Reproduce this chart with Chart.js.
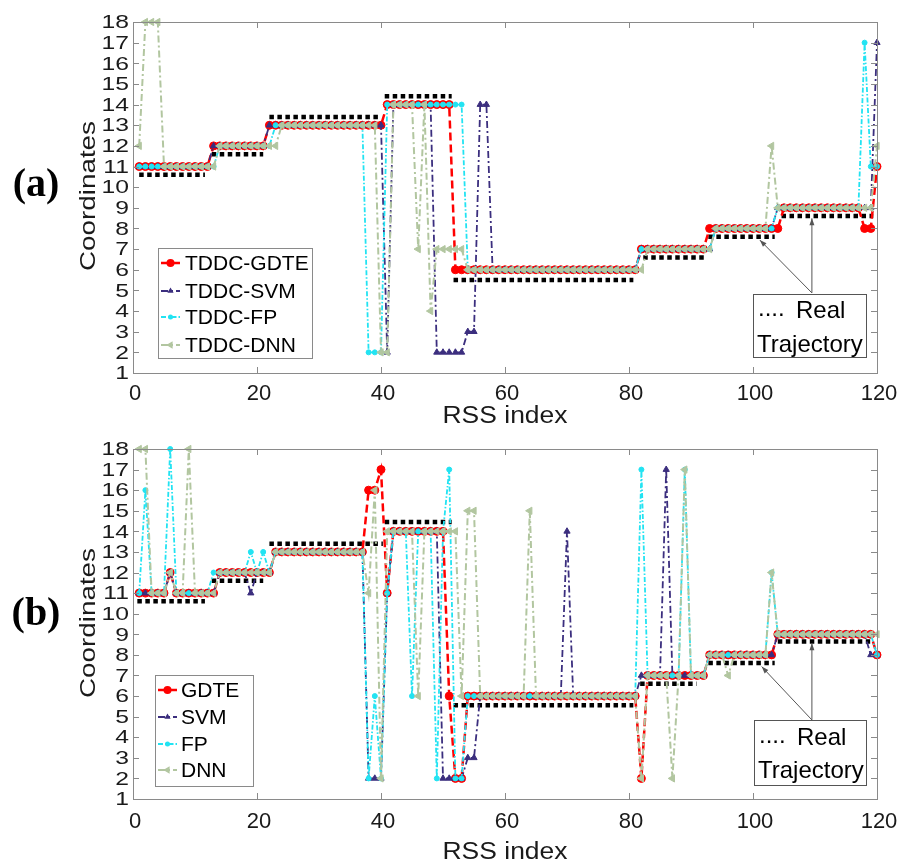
<!DOCTYPE html>
<html>
<head>
<meta charset="utf-8">
<script src="https://cdn.jsdelivr.net/npm/chart.js@4.4.1/dist/chart.umd.min.js"></script>
<style>
  body { margin: 0; background: #fff; width: 897px; height: 865px; position: relative; overflow: hidden; }
  canvas { position: absolute; left: 0; }
  #chartA { top: 0; }
  #chartB { top: 427px; }
</style>
</head>
<body>
<canvas id="chartA" width="897" height="427"></canvas>
<canvas id="chartB" width="897" height="438"></canvas>
<script>
// ── Data ──
const rssIndex = Array.from({ length: 120 }, (_, i) => i + 1);
const xTicks = [0, 20, 40, 60, 80, 100, 120];
const yTicks = [1, 2, 3, 4, 5, 6, 7, 8, 9, 10, 11, 12, 13, 14, 15, 16, 17, 18];
const namesA = ['TDDC-GDTE', 'TDDC-SVM', 'TDDC-FP', 'TDDC-DNN'];
const namesB = ['GDTE', 'SVM', 'FP', 'DNN'];

// panel (a)
const gdteA = [
  11,11,11,11,11,11,11,11,11,11, 11,11,12,12,12,12,12,12,12,12,
  12,13,13,13,13,13,13,13,13,13, 13,13,13,13,13,13,13,13,13,13,
  14,14,14,14,14,14,14,14,14,14, 14,6,6,6,6,6,6,6,6,6,
  6,6,6,6,6,6,6,6,6,6, 6,6,6,6,6,6,6,6,6,6,
  6,7,7,7,7,7,7,7,7,7, 7,7,8,8,8,8,8,8,8,8,
  8,8,8,8,9,9,9,9,9,9, 9,9,9,9,9,9,9,8,8,11];
const svmA = [
  11,11,11,11,11,11,11,11,11,11, 11,11,12,12,12,12,12,12,12,12,
  12,13,13,13,13,13,13,13,13,13, 13,13,13,13,13,13,13,13,13,13,
  2,14,14,14,14,14,14,14,2,2, 2,2,2,3,3,14,14,6,6,6,
  6,6,6,6,6,6,6,6,6,6, 6,6,6,6,6,6,6,6,6,6,
  6,7,7,7,7,7,7,7,7,7, 7,7,7,8,8,8,8,8,8,8,
  8,8,8,9,9,9,9,9,9,9, 9,9,9,9,9,9,9,9,9,17];
const fpA = [
  11,11,11,11,11,11,11,11,11,11, 11,11,11,12,12,12,12,12,12,12,
  12,12,13,13,13,13,13,13,13,13, 13,13,13,13,13,13,13,2,2,2,
  14,14,14,14,14,14,14,14,14,14, 14,14,14,6,6,6,6,6,6,6,
  6,6,6,6,6,6,6,6,6,6, 6,6,6,6,6,6,6,6,6,6,
  6,7,7,7,7,7,7,7,7,7, 7,7,7,8,8,8,8,8,8,8,
  8,8,8,9,9,9,9,9,9,9, 9,9,9,9,9,9,9,17,11,11];
const dnnA = [
  12,18,18,18,11,11,11,11,11,11, 11,11,11,12,12,12,12,12,12,12,
  12,12,12,13,13,13,13,13,13,13, 13,13,13,13,13,13,13,13,13,2,
  2,14,14,14,14,7,14,4,7,7, 7,7,7,6,6,6,6,6,6,6,
  6,6,6,6,6,6,6,6,6,6, 6,6,6,6,6,6,6,6,6,6,
  6,6,7,7,7,7,7,7,7,7, 7,7,7,8,8,8,8,8,8,8,
  8,8,12,9,9,9,9,9,9,9, 9,9,9,9,9,9,9,9,9,12];
const realStartA = [1, 12.7, 22, 40.6, 51.7, 82.3, 92.8, 104.6];
const realEndA = [11.6, 21, 39.5, 51.4, 80.7, 92.3, 103.5, 119.4];
const realLevelA = [10.6, 11.6, 13.4, 14.4, 5.5, 6.6, 7.6, 8.6];

// panel (b)
const gdteB = [
  11,11,11,11,11,12,11,11,11,11, 11,11,11,12,12,12,12,12,12,12,
  12,12,13,13,13,13,13,13,13,13, 13,13,13,13,13,13,13,16,16,17,
  11,14,14,14,14,14,14,14,14,14, 6,2,2,6,6,6,6,6,6,6,
  6,6,6,6,6,6,6,6,6,6, 6,6,6,6,6,6,6,6,6,6,
  6,2,7,7,7,7,7,7,7,7, 7,7,8,8,8,8,8,8,8,8,
  8,8,8,9,9,9,9,9,9,9, 9,9,9,9,9,9,9,9,9,8];
const svmB = [
  11,11,11,11,11,12,11,11,11,11, 11,11,11,12,12,12,12,12,11,12,
  12,12,13,13,13,13,13,13,13,13, 13,13,13,13,13,13,13,2,2,2,
  11,14,14,14,14,14,14,14,14,2, 2,2,2,3,3,6,6,6,6,6,
  6,6,6,6,6,6,6,6,6,14, 6,6,6,6,6,6,6,6,6,6,
  6,7,7,7,7,17,7,7,7,7, 7,7,8,8,8,8,8,8,8,8,
  8,8,8,9,9,9,9,9,9,9, 9,9,9,9,9,9,9,9,8,8];
const fpB = [
  11,16,11,11,11,18,11,11,11,11, 11,11,12,12,12,12,12,12,13,12,
  13,12,13,13,13,13,13,13,13,13, 13,13,13,13,13,13,13,2,6,2,
  11,14,14,14,6,14,14,14,2,14, 17,2,2,6,6,6,6,6,6,6,
  6,6,6,6,6,6,6,6,6,6, 6,6,6,6,6,6,6,6,6,6,
  6,17,7,7,7,7,7,7,17,7, 7,7,8,8,8,8,8,8,8,8,
  8,8,12,9,9,9,9,9,9,9, 9,9,9,9,9,9,9,9,9,8];
const dnnB = [
  18,18,11,11,11,12,11,11,18,11, 11,11,11,12,12,12,12,12,12,12,
  12,12,13,13,13,13,13,13,13,13, 13,13,13,13,13,13,13,11,16,2,
  14,14,14,14,14,6,14,14,14,14, 14,14,6,15,15,6,6,6,6,6,
  6,6,6,15,6,6,6,6,6,6, 6,6,6,6,6,6,6,6,6,6,
  6,2,7,7,7,7,2,7,17,7, 7,7,8,8,8,7,8,8,8,8,
  8,8,12,9,9,9,9,9,9,9, 9,9,9,9,9,9,9,9,9,9];
const realStartB = [0.7, 12.7, 22, 40.6, 51.7, 81.8, 92.8, 104];
const realEndB = [11.6, 21, 40.3, 51.4, 80.7, 90.9, 103.5, 118.9];
const realLevelB = [10.6, 11.6, 13.4, 14.45, 5.55, 6.6, 7.6, 8.65];

// ── Series styles ──
const styles = [
  { color: '#ff0000', dash: [8, 4], width: 2.5, point: 'circle', radius: 4, rot: 0 },
  { color: '#3b2e7e', dash: [7, 3, 2, 3], width: 1.8, point: 'triangle', radius: 3.6, rot: 0 },
  { color: '#22e3f2', dash: [5, 2, 1.5, 2], width: 1.8, point: 'circle', radius: 2.5, rot: 0 },
  { color: '#b2c6a0', dash: [7, 3, 2, 3], width: 2, point: 'triangle', radius: 4.2, rot: -90 }
];
const FONT = "'Liberation Sans', Arial, sans-serif";

function stretchText(ctx, str, cx, cy, font, width, rot) {
  ctx.save();
  ctx.font = font;
  const w = ctx.measureText(str).width;
  ctx.translate(cx, cy);
  if (rot) ctx.rotate(rot);
  ctx.scale(width / w, 1);
  ctx.textAlign = 'center';
  ctx.textBaseline = 'middle';
  ctx.fillText(str, 0, 0);
  ctx.restore();
}

function marker(ctx, k, x, y) {
  const s = styles[k], r = s.radius;
  ctx.fillStyle = s.color;
  ctx.beginPath();
  if (s.point === 'circle') ctx.arc(x, y, r, 0, Math.PI * 2);
  else if (s.rot === 0) { ctx.moveTo(x, y - r); ctx.lineTo(x + r * 0.87, y + r * 0.5); ctx.lineTo(x - r * 0.87, y + r * 0.5); }
  else { ctx.moveTo(x - r, y); ctx.lineTo(x + r * 0.5, y - r * 0.87); ctx.lineTo(x + r * 0.5, y + r * 0.87); }
  ctx.closePath();
  ctx.fill();
}

function arrow(ctx, x0, y0, x1, y1) {
  const a = Math.atan2(y1 - y0, x1 - x0);
  ctx.beginPath(); ctx.moveTo(x0, y0); ctx.lineTo(x1, y1); ctx.stroke();
  ctx.beginPath();
  ctx.moveTo(x1, y1);
  ctx.lineTo(x1 - 7 * Math.cos(a) + 2.5 * Math.sin(a), y1 - 7 * Math.sin(a) - 2.5 * Math.cos(a));
  ctx.lineTo(x1 - 7 * Math.cos(a) - 2.5 * Math.sin(a), y1 - 7 * Math.sin(a) + 2.5 * Math.cos(a));
  ctx.closePath(); ctx.fill();
}

// ── Decorations: box, inner ticks, labels, legend, annotation ──
const decor = {
  id: 'decor',
  afterDraw(chart, args, o) {
    const { ctx, chartArea: a } = chart;
    const x = chart.scales.x, y = chart.scales.y;
    ctx.save();
    ctx.strokeStyle = '#8a8a8a'; ctx.lineWidth = 1;
    ctx.strokeRect(a.left + 0.5, a.top + 0.5, a.right - a.left, a.bottom - a.top);
    ctx.beginPath();
    xTicks.forEach(v => {
      const px = Math.round(x.getPixelForValue(v)) + 0.5;
      ctx.moveTo(px, a.bottom); ctx.lineTo(px, a.bottom - 6);
      ctx.moveTo(px, a.top); ctx.lineTo(px, a.top + 6);
    });
    yTicks.forEach(v => {
      const py = Math.round(y.getPixelForValue(v)) + 0.5;
      ctx.moveTo(a.left, py); ctx.lineTo(a.left + 6, py);
      ctx.moveTo(a.right, py); ctx.lineTo(a.right - 6, py);
    });
    ctx.stroke();

    // tick labels
    ctx.fillStyle = '#1a1a1a';
    yTicks.forEach(v => {
      const py = y.getPixelForValue(v);
      ctx.save();
      ctx.font = '19px ' + FONT;
      ctx.translate(a.left - 4, py);
      ctx.scale(1.3, 1);
      ctx.textAlign = 'right'; ctx.textBaseline = 'middle';
      ctx.fillText(String(v), 0, 1);
      ctx.restore();
    });
    ctx.font = '22px ' + FONT;
    ctx.textAlign = 'center'; ctx.textBaseline = 'middle';
    xTicks.forEach(v => ctx.fillText(String(v), x.getPixelForValue(v) + 2, a.bottom + o.xTickOffset));

    // axis titles and panel tag
    stretchText(ctx, 'Coordinates', o.yTitle[0], o.yTitle[1], '22px ' + FONT, 150, -Math.PI / 2);
    stretchText(ctx, 'RSS index', o.xTitle[0], o.xTitle[1], '23px ' + FONT, 125, 0);
    ctx.fillStyle = '#000';
    ctx.font = "bold 40px 'Liberation Serif', 'Times New Roman', serif";
    ctx.textAlign = 'center'; ctx.textBaseline = 'middle';
    ctx.fillText(o.tag, o.tagXY[0], o.tagXY[1]);

    // legend
    const L = o.legend;
    ctx.fillStyle = '#fff'; ctx.fillRect(L.x, L.y, L.w, L.h);
    ctx.strokeStyle = '#8a8a8a'; ctx.lineWidth = 1;
    ctx.strokeRect(L.x + 0.5, L.y + 0.5, L.w, L.h);
    o.names.forEach((n, k) => {
      const ry = L.rows[k], s = styles[k];
      ctx.save();
      ctx.strokeStyle = s.color; ctx.lineWidth = s.width; ctx.setLineDash(s.dash);
      ctx.beginPath(); ctx.moveTo(L.sample[0], ry); ctx.lineTo(L.sample[1], ry); ctx.stroke();
      ctx.restore();
      marker(ctx, k, (L.sample[0] + L.sample[1]) / 2, ry);
      ctx.fillStyle = '#000'; ctx.font = '21px ' + FONT;
      ctx.textAlign = 'left'; ctx.textBaseline = 'middle';
      ctx.fillText(n, L.textX, ry + 1);
    });

    // real trajectory note with arrows
    const R = o.realBox;
    ctx.strokeStyle = '#555'; ctx.fillStyle = '#555'; ctx.lineWidth = 1;
    const sx = x.getPixelForValue(o.arrowFrom.x), sy = y.getPixelForValue(o.arrowFrom.y);
    o.arrowTips.forEach(t => arrow(ctx, sx, sy, x.getPixelForValue(t.x), y.getPixelForValue(t.y)));
    ctx.fillStyle = '#fff'; ctx.fillRect(R.x, R.y, R.w, R.h);
    ctx.strokeStyle = '#555';
    ctx.strokeRect(R.x + 0.5, R.y + 0.5, R.w, R.h);
    ctx.fillStyle = '#000'; ctx.font = '24px ' + FONT;
    ctx.textAlign = 'left'; ctx.textBaseline = 'middle';
    ctx.fillText('....', R.x + 5, R.line1 - 2);
    ctx.fillText('Real', R.x + 43, R.line1);
    ctx.fillText('Trajectory', R.x + 4, R.line2);
    ctx.restore();
  }
};

function buildChart(id, series, names, realStart, realEnd, realLevel, chartBottom, deco) {
  const canvas = document.getElementById(id);
  const datasets = series.map((vals, k) => ({
    label: names[k],
    data: vals.map((v, i) => ({ x: rssIndex[i], y: v })),
    borderColor: styles[k].color,
    backgroundColor: styles[k].color,
    borderWidth: styles[k].width,
    borderDash: styles[k].dash,
    pointStyle: styles[k].point,
    pointRadius: styles[k].radius,
    pointRotation: styles[k].rot,
    pointBackgroundColor: styles[k].color,
    pointBorderColor: styles[k].color,
    pointBorderWidth: 1,
    tension: 0,
    order: 3 - k,
    clip: false
  }));
  const realPts = [];
  realStart.forEach((s, i) => {
    realPts.push({ x: s, y: realLevel[i] }, { x: realEnd[i], y: realLevel[i] }, { x: realEnd[i] + 0.3, y: null });
  });
  datasets.push({
    label: 'Real Trajectory', data: realPts,
    borderColor: '#000', borderWidth: 4.5, borderDash: [4.5, 3.5],
    pointRadius: 0, spanGaps: false, order: 10, clip: false
  });

  return new Chart(canvas.getContext('2d'), {
    type: 'line',
    data: { datasets },
    options: {
      responsive: false, animation: false, events: [],
      layout: { padding: { top: 22, right: 20, left: 0, bottom: 0 } },
      plugins: { legend: { display: false }, tooltip: { enabled: false }, decor: deco },
      scales: {
        x: {
          type: 'linear', min: 0, max: 120,
          grid: { display: false, drawTicks: false },
          border: { display: false },
          ticks: { display: false, stepSize: 20 },
          afterFit: s => { s.height = canvas.height - chartBottom; }
        },
        y: {
          type: 'linear', min: 1, max: 18,
          grid: { display: false, drawTicks: false },
          border: { display: false },
          ticks: { display: false, stepSize: 1, autoSkip: false },
          afterFit: s => { s.width = 133; }
        }
      }
    },
    plugins: [decor]
  });
}

buildChart('chartA', [gdteA, svmA, fpA, dnnA], namesA, realStartA, realEndA, realLevelA, 373, {
  tag: '(a)', tagXY: [36, 186], yTitle: [89, 196], xTitle: [505, 417], xTickOffset: 21, names: namesA,
  legend: { x: 158, y: 248, w: 154, h: 110, rows: [263, 291, 317, 345], sample: [161, 180], textX: 185 },
  realBox: { x: 753, y: 294, w: 113, h: 63, line1: 311, line2: 345 },
  arrowFrom: { x: 109.5, y: 4.88 },
  arrowTips: [{ x: 101.1, y: 7.44 }, { x: 109.5, y: 8.49 }]
});

buildChart('chartB', [gdteB, svmB, fpB, dnnB], namesB, realStartB, realEndB, realLevelB, 372, {
  tag: '(b)', tagXY: [36, 188], yTitle: [89, 196], xTitle: [505, 426], xTickOffset: 23, names: namesB,
  legend: { x: 155, y: 248, w: 98, h: 111, rows: [263, 290, 317, 343], sample: [158, 177], textX: 181 },
  realBox: { x: 754, y: 293, w: 112, h: 65, line1: 311, line2: 344 },
  arrowFrom: { x: 109.5, y: 4.84 },
  arrowTips: [{ x: 101.4, y: 7.43 }, { x: 109.5, y: 8.57 }]
});
</script>
</body>
</html>
